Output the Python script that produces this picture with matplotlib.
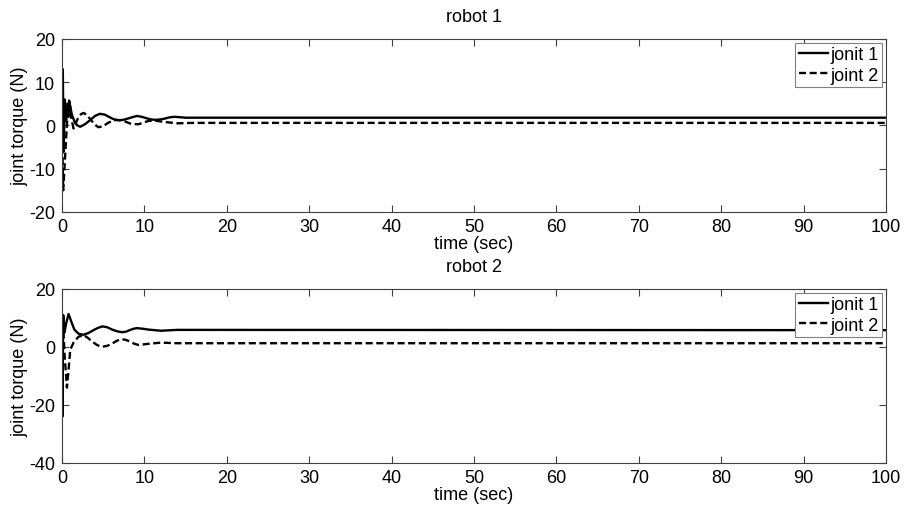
import matplotlib
matplotlib.use("Agg")
import matplotlib.pyplot as plt

plt.rcParams['font.family'] = ['Liberation Sans', 'DejaVu Sans']
plt.rcParams['axes.unicode_minus'] = False

# Robot 1
r1_t1 = [0, 0.1, 0.2, 0.35, 0.5, 0.65, 0.8, 1.0, 1.2, 1.5, 1.8, 2.2, 2.8, 3.4, 4.0, 4.6, 5.2, 5.7, 6.2, 6.8, 7.4, 8.0, 8.5, 9.1, 9.7, 10.2, 10.8, 11.3, 11.9, 12.5, 13.1, 13.7, 14.4, 15, 17, 100]
r1_j1 = [0, 13, -6, 6, 1, 5, 2, 4.5, 2.5, 1.0, 0.1, -0.3, 0.3, 1.2, 2.2, 2.7, 2.5, 2.0, 1.5, 1.2, 1.3, 1.6, 1.9, 2.2, 2.0, 1.7, 1.4, 1.3, 1.4, 1.6, 1.9, 2.0, 1.9, 1.8, 1.8, 1.8]
r1_t2 = [0, 0.15, 0.3, 0.5, 0.7, 0.9, 1.1, 1.4, 1.9, 2.3, 2.6, 3.0, 3.5, 4.0, 4.4, 5.0, 5.5, 6.1, 6.6, 7.2, 7.7, 8.2, 8.7, 9.3, 9.8, 10.4, 11, 12.5, 14, 16, 100]
r1_j2 = [0, -15, -10, -3, 3, 6.2, 2, -0.7, 1.5, 2.6, 2.9, 2.5, 1.3, 0.2, -0.4, -0.2, 0.5, 1.1, 1.3, 1.2, 0.9, 0.5, 0.3, 0.3, 0.6, 1.0, 1.2, 0.8, 0.5, 0.6, 0.6]

# Robot 2
r2_t1 = [0, 0.05, 0.15, 0.3, 0.5, 0.8, 1.1, 1.5, 2.0, 2.6, 3.2, 3.7, 4.3, 4.9, 5.5, 6.1, 6.7, 7.3, 7.8, 8.2, 8.7, 9.1, 9.8, 10.5, 12, 14, 100]
r2_j1 = [0, -24, 11, 5, 8, 11.4, 9, 6, 4.6, 4.2, 4.8, 5.6, 6.5, 7.1, 6.8, 6.0, 5.4, 5.1, 5.3, 5.8, 6.3, 6.5, 6.3, 6.0, 5.6, 5.9, 5.8]
r2_t2 = [0, 0.1, 0.3, 0.5, 0.6, 0.8, 1.0, 1.4, 2.0, 2.6, 3.2, 3.7, 4.3, 4.9, 5.5, 6.1, 6.7, 7.3, 7.8, 8.3, 8.8, 9.3, 10.5, 12, 14, 100]
r2_j2 = [0, 10, -2, -10, -14, -8, -1, 1.5, 3.5, 4.2, 3.0, 1.8, 0.6, 0.1, 0.4, 1.2, 2.2, 2.7, 2.4, 1.8, 1.1, 0.7, 1.1, 1.5, 1.3, 1.3]

titles = ['robot 1', 'robot 2']
legend_labels = ['jonit 1', 'joint 2']
xticks = list(range(0, 101, 10))
yticks_r1 = [-20, -10, 0, 10, 20]
yticks_r2 = [-40, -20, 0, 20]

fig = plt.figure(figsize=(9.06, 5.10), dpi=100)
ax1 = fig.add_axes([0.0684, 0.5824, 0.9095, 0.3392])
ax2 = fig.add_axes([0.0684, 0.0902, 0.9095, 0.3412])

data = [
    (ax1, r1_t1, r1_j1, r1_t2, r1_j2, yticks_r1),
    (ax2, r2_t1, r2_j1, r2_t2, r2_j2, yticks_r2),
]

FS = 13
for i, (ax, ta, ya, tb, yb, yt) in enumerate(data):
    ax.plot(ta, ya, color='black', linewidth=1.7, linestyle='-', label=legend_labels[0])
    ax.plot(tb, yb, color='black', linewidth=1.7, linestyle=(0, (3, 1.5)), label=legend_labels[1])
    ax.set_xlim(0, 100)
    ax.set_ylim(yt[0], yt[-1])
    ax.set_xticks(xticks)
    ax.set_yticks(yt)
    ax.tick_params(direction='in', top=True, right=True, length=5, width=0.8,
                   labelsize=FS, colors='#404040', labelcolor='black')
    ax.tick_params(axis='x', pad=4)
    ax.tick_params(axis='y', pad=5)
    for s in ax.spines.values():
        s.set_color('#404040')
        s.set_linewidth(0.8)
    ax.set_title(titles[i], fontsize=FS, pad=13)
    ax.set_xlabel('time (sec)', fontsize=FS, labelpad=0)
    ax.set_ylabel('joint torque (N)', fontsize=FS, labelpad=0.5)
    leg = ax.legend(loc='upper right', fontsize=FS, fancybox=False, framealpha=1,
                    edgecolor='#808080', handlelength=1.6, handletextpad=0.15,
                    borderpad=0.2, labelspacing=0.2, borderaxespad=0.2)
    leg.get_frame().set_linewidth(0.8)

fig.savefig('out.png', dpi=100)
